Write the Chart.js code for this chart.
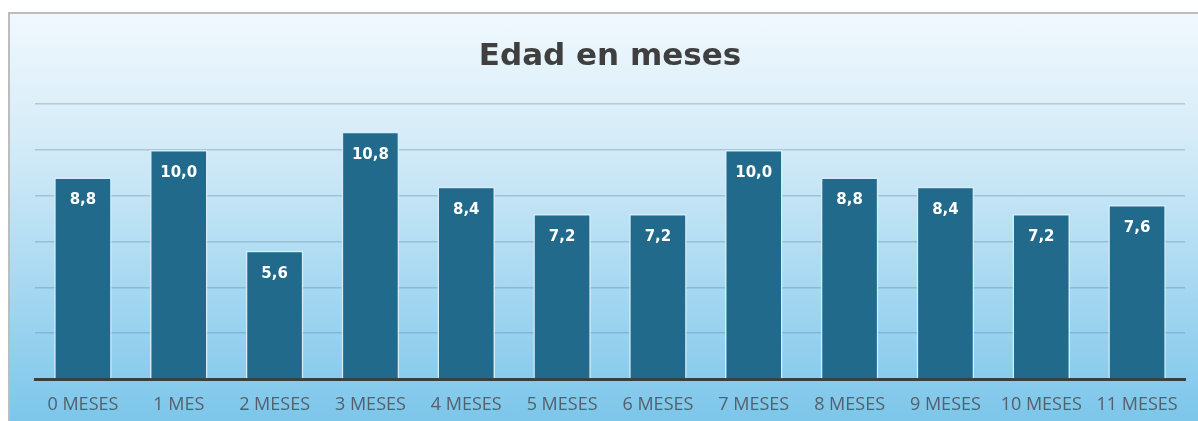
<!DOCTYPE html>
<html>
<head>
<meta charset="utf-8">
<script src="https://cdn.jsdelivr.net/npm/chart.js@4.4.0/dist/chart.umd.min.js"></script>
<style>
  html, body { margin: 0; padding: 0; background: #ffffff; width: 1198px; height: 421px; overflow: hidden; }
  #frame {
    position: absolute; left: 8px; top: 12px; width: 1190px; height: 409px;
    box-sizing: border-box; border-left: 2px solid #bdbdbd; border-top: 2px solid #bdbdbd;
    background: linear-gradient(to bottom, #f0f8fd 0%, #d6ecf8 30%, #a9d9f1 65%, #7cc6ea 100%);
  }
  #wrap { position: absolute; left: 0; top: 0; width: 1188px; height: 407px; }
</style>
</head>
<body>
<div id="frame"><div id="wrap"><canvas id="c"></canvas></div></div>
<script>
const categories = ["0 MESES", "1 MES", "2 MESES", "3 MESES", "4 MESES", "5 MESES", "6 MESES", "7 MESES", "8 MESES", "9 MESES", "10 MESES", "11 MESES"];
const values = [8.8, 10.0, 5.6, 10.8, 8.4, 7.2, 7.2, 10.0, 8.8, 8.4, 7.2, 7.6];
const chartTitle = "Edad en meses";

const barLabels = {
  id: 'barLabels',
  afterDatasetsDraw(chart) {
    const ctx = chart.ctx;
    const meta = chart.getDatasetMeta(0);
    ctx.save();
    ctx.fillStyle = '#ffffff';
    ctx.font = 'bold 15px "DejaVu Sans", sans-serif';
    ctx.textAlign = 'center';
    ctx.textBaseline = 'middle';
    meta.data.forEach((bar, i) => {
      const v = chart.data.datasets[0].data[i];
      ctx.fillText(v.toFixed(1).replace('.', ','), bar.x, bar.y + 23);
    });
    ctx.restore();
  }
};

new Chart(document.getElementById('c'), {
  type: 'bar',
  data: {
    labels: categories,
    datasets: [{
      data: values,
      backgroundColor: '#216a8b',
      borderColor: '#d4edf8',
      borderWidth: 1.5,
      borderSkipped: 'bottom',
      barPercentage: 0.6,
      categoryPercentage: 1.0
    }]
  },
  options: {
    responsive: true,
    maintainAspectRatio: false,
    animation: false,
    layout: { padding: { left: 25, right: 13, top: 0, bottom: 6 } },
    plugins: {
      legend: { display: false },
      tooltip: { enabled: false },
      title: {
        display: true,
        text: chartTitle,
        color: '#3f3f3f',
        font: { family: '"DejaVu Sans", sans-serif', size: 31, weight: 'bold' },
        padding: { top: 24, bottom: 29 }
      }
    },
    scales: {
      x: {
        grid: { display: false, drawTicks: false },
        border: { display: true, color: '#3d3d3d', width: 3 },
        ticks: {
          color: '#55606a',
          font: { family: '"Open Sans", "Noto Sans", sans-serif', size: 18 },
          padding: 15,
          maxRotation: 0,
          autoSkip: false
        },
        afterFit(scale) { scale.height = 36; }
      },
      y: {
        min: 0, max: 12,
        ticks: { display: false, stepSize: 2 },
        grid: { color: 'rgba(90,125,150,0.32)', lineWidth: 1.5, drawTicks: false },
        border: { display: false }
      }
    }
  },
  plugins: [barLabels]
});
</script>
</body>
</html>
